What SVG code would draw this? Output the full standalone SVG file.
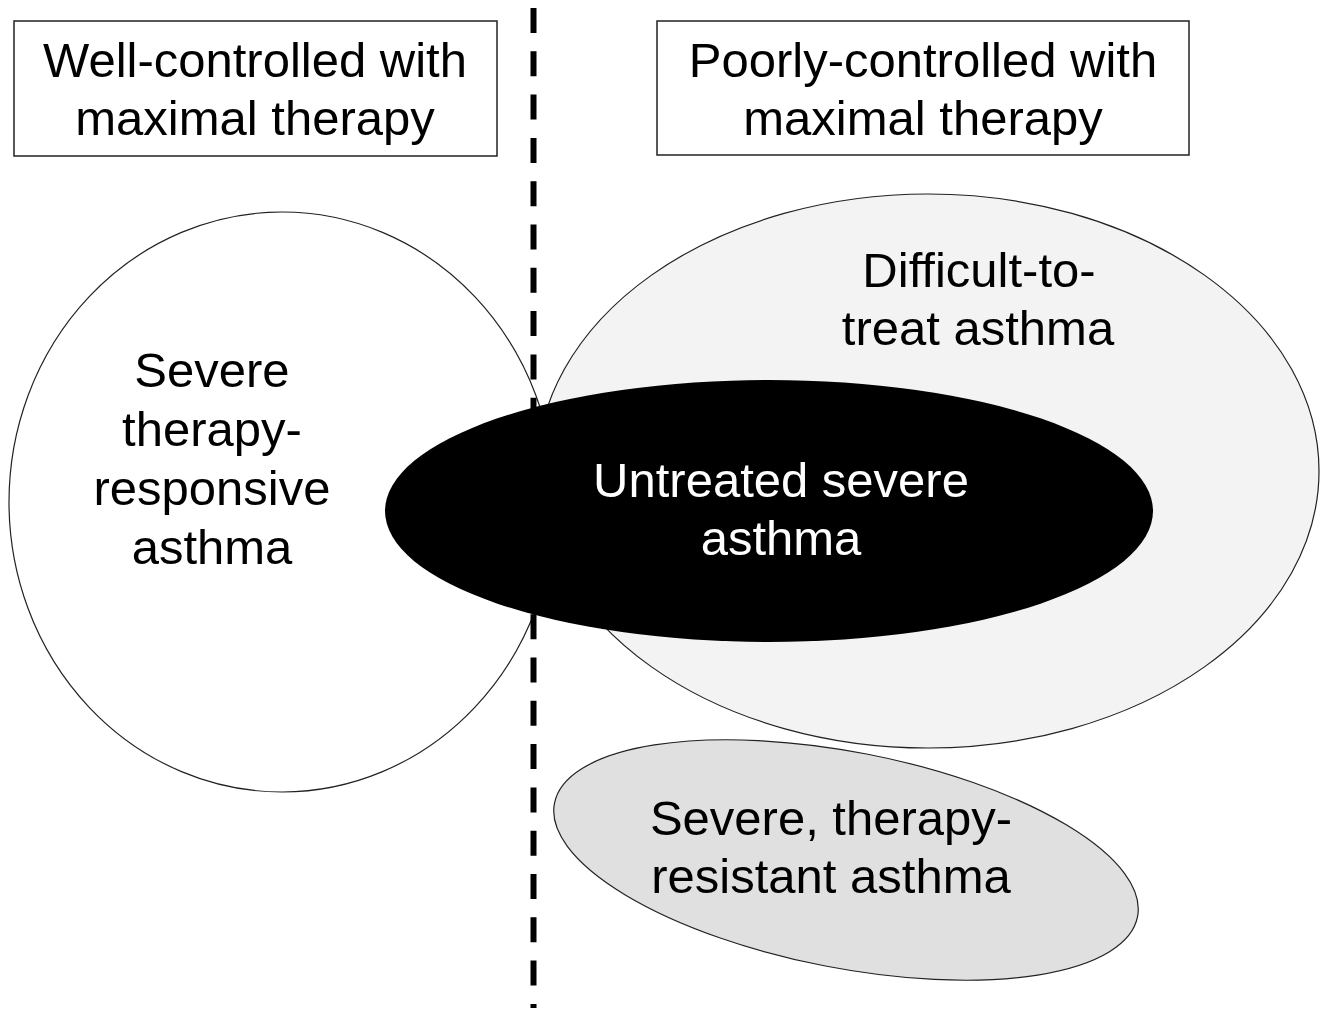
<svg xmlns="http://www.w3.org/2000/svg" width="1333" height="1011" viewBox="0 0 1333 1011">
<style>
text{font-family:"Liberation Sans",Arial,sans-serif;font-size:49px;text-anchor:middle;fill:#000}
.sh{stroke:#222;stroke-width:1.2}
.box{fill:#fff;stroke:#222;stroke-width:1.5}
</style>
<rect width="1333" height="1011" fill="#fff"/>
<g id="box-well">
<rect class="box" x="14" y="21" width="483" height="135"/>
<text x="255" y="77">Well-controlled with</text>
<text x="255" y="135">maximal therapy</text>
</g>
<g id="box-poorly">
<rect class="box" x="657" y="21" width="532" height="134"/>
<text x="923" y="77">Poorly-controlled with</text>
<text x="923" y="135">maximal therapy</text>
</g>
<g id="responsive">
<ellipse class="sh" cx="282" cy="502" rx="273" ry="290" fill="#fff"/>
</g>
<g id="difficult">
<ellipse class="sh" cx="928" cy="471" rx="391" ry="277" fill="#f3f3f3"/>
</g>
<g id="connectors">
<line x1="533.5" y1="8" x2="533.5" y2="1008" stroke="#000" stroke-width="6" stroke-dasharray="25 18.3"/>
</g>
<g id="untreated">
<ellipse cx="769" cy="511" rx="384" ry="131" fill="#000"/>
<text x="781" y="497" style="fill:#fff">Untreated severe</text>
<text x="781" y="555" style="fill:#fff">asthma</text>
</g>
<g id="resistant">
<ellipse class="sh" cx="846" cy="860" rx="297" ry="108" fill="#e0e0e0" transform="rotate(11 846 860)"/>
<text x="831" y="835">Severe, therapy-</text>
<text x="831" y="893">resistant asthma</text>
</g>
<g id="responsive-label">
<text x="212" y="387">Severe</text>
<text x="212" y="446">therapy-</text>
<text x="212" y="505">responsive</text>
<text x="212" y="564">asthma</text>
</g>
<g id="difficult-label">
<text x="979" y="287">Difficult-to-</text>
<text x="978" y="345">treat asthma</text>
</g>
</svg>
